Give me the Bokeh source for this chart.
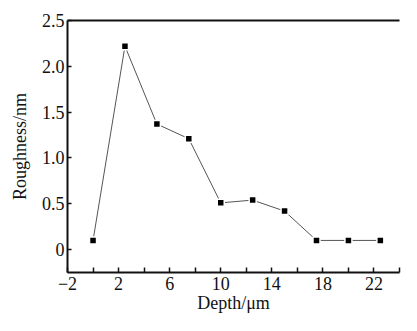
from bokeh.plotting import figure
from bokeh.models import FixedTicker, CustomJSTickFormatter, LinearAxis, Range1d
from bokeh.embed import file_html
from bokeh.resources import INLINE

depth = [0, 2.5, 5, 7.5, 10, 12.5, 15, 17.5, 20, 22.5]
roughness = [0.10, 2.22, 1.37, 1.21, 0.51, 0.54, 0.42, 0.10, 0.10, 0.10]
x_ticks = [-2, 0, 2, 4, 6, 8, 10, 12, 14, 16, 18, 20, 22, 24]
y_ticks = [0, 0.5, 1.0, 1.5, 2.0, 2.5]

FONT = "Liberation Serif"

p = figure(width=401, height=315, output_backend="svg", toolbar_location=None,
           x_range=Range1d(-2, 24), y_range=Range1d(-0.25, 2.5),
           min_border_left=67, min_border_top=20, min_border_right=2, min_border_bottom=2)
p.outline_line_color = None
p.grid.visible = False
p.background_fill_color = "white"
p.border_fill_color = "white"

p.line(depth, roughness, line_color="#555555", line_width=1)
p.scatter(depth, roughness, marker="square", size=7, fill_color="black",
          line_color="white", line_width=1.5)

xa = p.xaxis[0]
xa.ticker = FixedTicker(ticks=x_ticks)
xa.formatter = CustomJSTickFormatter(code="""
const t = Math.round(tick);
if (((t + 2) % 4 + 4) % 4 !== 0) return '';
return t < 0 ? '\\u2212' + Math.abs(t) : String(t);
""")
xa.axis_label = "Depth/\u03bcm"

ya = p.yaxis[0]
ya.ticker = FixedTicker(ticks=y_ticks)
ya.formatter = CustomJSTickFormatter(code="return Math.abs(tick) < 1e-9 ? '0' : tick.toFixed(1);")
ya.axis_label = "Roughness/nm"

for ax in (xa, ya):
    ax.axis_line_width = 2
    ax.axis_line_color = "#111111"
    ax.major_tick_line_color = "#111111"
    ax.major_tick_line_width = 1.5
    ax.major_tick_out = 0
    ax.minor_tick_line_color = None
    ax.major_label_text_font = FONT
    ax.major_label_text_font_size = "18px"
    ax.major_label_text_color = "#111111"
    ax.axis_label_text_font = FONT
    ax.axis_label_text_font_size = "18px"
    ax.axis_label_text_font_style = "normal"
    ax.axis_label_text_color = "#111111"

xa.major_tick_in = 5
xa.major_label_standoff = 4
xa.axis_label_standoff = 0
ya.major_tick_in = 4
ya.major_label_standoff = 3
ya.axis_label_standoff = 9

top = LinearAxis(ticker=FixedTicker(ticks=[]), axis_line_width=2, axis_line_color="#111111",
                 major_tick_line_color=None, minor_tick_line_color=None,
                 major_label_text_font_size="0px")
p.add_layout(top, "above")

open("out.html", "w").write(file_html(p, INLINE))
